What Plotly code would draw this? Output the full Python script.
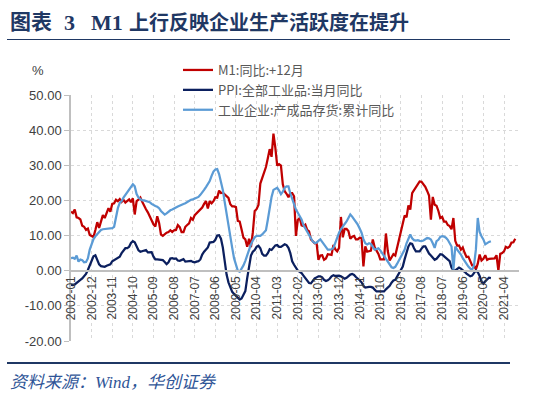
import plotly.graph_objects as go

# ---------------- data ----------------
months = [f"{y}-{m:02d}" for y in range(2002, 2022) for m in range(1, 13)]  # 2002-01 .. 2021-12
tick_labels = months[0:232:11]  # 2002-01, 2002-12, ... 2021-04

m1_yoy_lead12 = [
    16.8, 16.4, 17.4, 15.2, 15.0, 14.6, 12.8, 12.5, 11.6, 12.0, 10.2, 10.0,
    9.6, 11.6, 13.8, 12.2, 14.0, 15.8, 15.0, 16.5, 17.8, 16.8, 19.0, 19.2,
    20.2, 19.8, 20.4, 19.6, 20.2, 19.4, 20.0, 20.3, 19.5, 20.6, 16.0, 19.8,
    20.2, 20.8, 19.6, 18.4, 17.5, 16.6, 15.5, 14.6, 13.2, 12.6, 15.5, 13.6,
    10.3, 9.9, 10.5, 10.8, 11.0, 11.5, 11.0, 11.5, 11.6, 13.0, 12.4, 11.0,
    11.0, 12.5, 13.0, 13.5, 15.0, 14.5, 15.8, 16.4, 17.0, 17.4, 18.0, 19.0,
    19.8, 17.7, 19.8, 19.2, 19.8, 20.9, 20.8, 22.8, 22.1, 22.2, 21.7, 21.0,
    20.7, 18.9, 18.3, 18.3, 18.1, 14.2, 14.0, 11.7, 9.4, 8.9, 6.8, 9.1,
    6.7, 10.9, 17.0, 17.5, 18.7, 24.8, 26.4, 27.7, 29.5, 32.0, 34.6, 32.4,
    39.0, 35.0, 29.9, 30.3, 29.9, 24.6, 22.6, 21.9, 20.9, 22.1, 22.1, 21.2,
    9.9, 14.5, 15.0, 12.9, 12.7, 13.1, 11.6, 11.2, 8.9, 8.4, 7.8, 7.9,
    3.1, 4.3, 4.4, 3.1, 3.5, 4.7, 4.6, 4.5, 7.3, 6.1, 5.5, 6.5,
    15.3, 9.5, 11.9, 11.9, 11.3, 9.1, 9.7, 9.9, 8.9, 8.9, 9.4, 9.3,
    1.2, 6.9, 5.4, 5.5, 5.7, 8.9, 6.7, 5.7, 4.8, 3.2, 3.2, 3.2,
    10.6, 5.6, 2.9, 3.7, 4.7, 4.3, 6.6, 9.3, 11.4, 14.0, 15.7, 15.2,
    18.6, 17.4, 22.1, 22.9, 23.7, 24.6, 25.4, 25.3, 24.7, 23.9, 22.7, 21.4,
    14.5, 21.0, 18.8, 18.5, 17.0, 15.0, 15.3, 14.0, 14.0, 13.0, 12.7, 11.8,
    15.0, 8.5, 7.1, 7.2, 6.0, 6.6, 5.1, 3.9, 4.0, 2.7, 1.5, 1.5,
    0.4, 2.0, 4.6, 2.9, 3.4, 4.4, 3.1, 3.4, 3.4, 3.3, 3.5, 4.4,
    0.0, 4.8, 5.0, 5.5, 6.8, 6.5, 6.9, 8.0, 8.1, 9.1,
]

ppi_yoy = [
    -4.0, -4.1, -3.9, -3.4, -2.9, -2.6, -2.2, -1.6, -0.9, 0.2, 1.6, 3.2,
    4.1, 4.4, 3.0, 1.8, 1.3, 1.3, 1.1, 1.4, 1.6, 1.8, 2.7, 3.0,
    3.5, 3.6, 4.0, 5.0, 5.7, 6.4, 6.4, 6.8, 7.9, 8.4, 8.1, 7.1,
    5.8, 5.4, 5.6, 5.8, 5.9, 5.2, 5.2, 5.3, 4.0, 3.2, 3.2, 3.2,
    3.0, 3.0, 2.5, 1.9, 2.4, 3.5, 3.6, 3.4, 3.5, 2.9, 2.8, 3.1,
    3.3, 2.6, 2.7, 2.8, 2.8, 2.5, 2.4, 2.6, 2.7, 3.2, 4.6, 5.4,
    6.1, 6.6, 8.0, 8.1, 8.2, 8.8, 10.0, 10.1, 9.1, 6.6, 2.0, -1.1,
    -3.3, -4.5, -6.0, -6.6, -7.2, -7.8, -8.2, -7.9, -7.0, -5.8, -2.1, 1.7,
    4.3, 5.4, 5.9, 6.8, 7.1, 6.4, 4.8, 4.3, 4.3, 5.0, 6.1, 5.9,
    6.6, 7.2, 7.3, 6.8, 6.8, 7.1, 7.5, 7.3, 6.5, 5.0, 2.7, 1.7,
    0.7, 0.0, -0.3, -0.7, -1.4, -2.1, -2.9, -3.5, -3.6, -2.8, -2.2, -1.9,
    -1.6, -1.6, -1.9, -2.6, -2.9, -2.7, -2.3, -1.6, -1.3, -1.5, -1.4, -1.4,
    -1.6, -2.0, -2.3, -2.0, -1.4, -1.1, -0.9, -1.2, -1.8, -2.2, -2.7, -3.3,
    -4.3, -4.8, -4.6, -4.6, -4.6, -4.8, -5.4, -5.9, -5.9, -5.9, -5.9, -5.9,
    -5.3, -4.9, -4.3, -3.4, -2.8, -2.6, -1.7, -0.8, 0.1, 1.2, 3.3, 5.5,
    6.9, 7.8, 7.6, 6.4, 5.5, 5.5, 5.5, 6.3, 6.9, 6.9, 5.8, 4.9,
    4.3, 3.7, 3.1, 3.4, 4.1, 4.7, 4.6, 4.1, 3.6, 3.3, 2.7, 0.9,
    0.1, 0.1, 0.4, 0.9, 0.6, 0.0, -0.3, -0.8, -1.2, -1.6, -1.4, -0.5,
    0.1, -0.4, -1.5, -3.1, -3.7, -3.0, -2.4, -2.0, -2.1,
]

inventory_ytd_yoy = [
    3.6, 3.7, 3.4, 4.3, 2.6, 3.2, 3.0, 2.4, 2.5, 3.5, 6.0, 7.8,
    9.0, 9.8, 10.4, 11.2, 11.6, 11.8, 11.9, 12.0, 12.0, 12.2, 12.1, 12.5,
    15.5, 17.8, 19.3, 19.8, 20.8, 21.5, 22.2, 23.0, 23.7, 24.6, 24.0, 21.8,
    20.8, 20.4, 20.0, 20.0, 19.8, 19.7, 19.5, 19.0, 18.6, 18.4, 18.2, 17.8,
    17.0, 16.5, 16.0, 16.3, 16.8, 17.2, 17.4, 17.6, 18.0, 18.3, 18.6, 18.9,
    19.0, 19.2, 19.6, 19.9, 20.2, 20.3, 20.5, 20.6, 21.0, 21.6, 22.2, 23.0,
    23.8, 24.6, 25.5, 27.0, 28.2, 28.8, 28.9, 27.5, 25.5, 23.0, 19.5, 16.0,
    12.5, 9.0, 6.5, 3.5, 1.5, 0.0, -0.3, 0.5, 1.5, 2.8, 4.5, 6.0,
    7.5, 8.6, 9.5, 9.9, 9.8, 9.9, 10.3, 10.8, 11.5, 14.5, 18.0, 21.0,
    23.0, 23.4, 23.6, 22.8, 21.8, 22.5, 23.6, 24.0, 24.0, 22.0, 20.3, 19.0,
    17.4, 16.5, 15.5, 14.6, 13.0, 12.0, 11.0, 10.0, 9.0, 8.3, 7.9, 8.0,
    8.5, 8.9, 8.2, 7.4, 6.6, 6.0, 6.0, 6.1, 6.5, 8.0, 9.6, 10.8,
    11.8, 12.7, 13.3, 14.0, 15.0, 16.0, 15.4, 14.6, 14.0, 13.1, 12.0, 10.8,
    9.0, 7.8, 7.5, 7.8, 7.6, 6.8, 6.0, 6.2, 6.4, 5.8, 5.0, 4.2,
    3.2, 2.3, 1.7, 1.0, 0.8, 1.1, 2.0, 3.1, 4.0, 5.0, 6.0, 7.8,
    9.0, 10.3, 9.2, 8.7, 8.6, 8.7, 8.5, 8.4, 8.6, 8.9, 9.3, 9.2,
    8.9, 7.8, 6.5, 8.4, 8.8, 9.6, 9.8, 9.7, 9.4, 8.8, 7.8, 6.9,
    0.3, 6.9, 6.0, 5.4, 4.6, 3.6, 2.7, 2.0, 1.2, 0.6, 0.3, 1.5,
    6.0, 15.0, 11.0, 9.8, 8.9, 7.5, 7.9, 8.2, 8.4,
]

y_ticks = [-20, -10, 0, 10, 20, 30, 40, 50]
y_ticktext = ["-20.00", "-10.00", "0.00", "10.00", "20.00", "30.00", "40.00", "50.00"]

series_names = ["M1:同比:+12月", "PPI:全部工业品:当月同比", "工业企业:产成品存货:累计同比"]

# ---------------- layout helpers ----------------
W, H = 550, 397
ML, MR, MT, MB = 71, 31, 95, 56
PW, PH = W - ML - MR, H - MT - MB


def px_x(p):
    return (p - ML) / PW


def px_y(p):
    return (H - MB - p) / PH


fig = go.Figure()
fig.add_trace(go.Scatter(x=months[:len(m1_yoy_lead12)], y=m1_yoy_lead12, mode="lines",
                         name=series_names[0], line=dict(color="#C00000", width=2.25)))
fig.add_trace(go.Scatter(x=months[:len(ppi_yoy)], y=ppi_yoy, mode="lines",
                         name=series_names[1], line=dict(color="#0B1F5E", width=2.25)))
fig.add_trace(go.Scatter(x=months[:len(inventory_ytd_yoy)], y=inventory_ytd_yoy, mode="lines",
                         name=series_names[2], line=dict(color="#5B9BD5", width=2.25)))

cjk = "Noto Sans CJK SC"
serif = "Liberation Serif, Noto Sans CJK SC"
title_color = "#1F3864"

annotations = [
    dict(text="<b>图表</b>", x=px_x(8), y=px_y(22), xanchor="left", yanchor="middle",
         font=dict(family=serif, size=21, color=title_color)),
    dict(text="<b>3</b>", x=px_x(62), y=px_y(22), xanchor="left", yanchor="middle",
         font=dict(family=serif, size=22, color=title_color)),
    dict(text="<b>M1</b>", x=px_x(89), y=px_y(22), xanchor="left", yanchor="middle",
         font=dict(family=serif, size=22, color=title_color)),
    dict(text="<b>上行反映企业生产活跃度在提升</b>", x=px_x(127), y=px_y(22), xanchor="left", yanchor="middle",
         font=dict(family=serif, size=20, color=title_color)),
    dict(text="<i>资料来源：Wind，华创证券</i>", x=px_x(8), y=px_y(382), xanchor="left", yanchor="middle",
         font=dict(family=serif, size=17, color="#2F5597")),
    dict(text="%", x=px_x(38), y=px_y(70), xanchor="center", yanchor="middle",
         font=dict(family="Liberation Sans, Arial", size=13, color="#404040")),
]
for a in annotations:
    a.update(xref="paper", yref="paper", showarrow=False)

shapes = [
    dict(type="line", xref="paper", yref="paper", x0=px_x(7), x1=px_x(510), y0=px_y(39.5), y1=px_y(39.5),
         line=dict(color=title_color, width=1)),
    dict(type="line", xref="paper", yref="paper", x0=px_x(7), x1=px_x(510), y0=px_y(363), y1=px_y(363),
         line=dict(color=title_color, width=2)),
]

fig.update_layout(
    width=W, height=H,
    margin=dict(l=ML, r=MR, t=MT, b=MB, pad=0, autoexpand=False),
    paper_bgcolor="white", plot_bgcolor="white",
    showlegend=True,
    legend=dict(x=px_x(178), y=px_y(55), xanchor="left", yanchor="top",
                bgcolor="rgba(0,0,0,0)", font=dict(family=cjk, size=13, color="#595959"),
                tracegroupgap=0, itemwidth=30),
    annotations=annotations,
    shapes=shapes,
    xaxis=dict(type="category", categoryorder="array", categoryarray=months,
               range=[0, 239], tickmode="array", tickvals=tick_labels, ticktext=tick_labels,
               tickangle=-90, tickfont=dict(family="Liberation Sans, Arial", size=12, color="#404040"),
               showgrid=True, gridcolor="#D9D9D9", griddash="dot", gridwidth=1,
               showline=True, linecolor="#BFBFBF", linewidth=1.5, ticks="",
               anchor="free", position=20 / 70, zeroline=False),
    yaxis=dict(range=[-20, 50], tickmode="array", tickvals=y_ticks, ticktext=y_ticktext,
               tickfont=dict(family="Liberation Sans, Arial", size=13, color="#404040"),
               showgrid=True, gridcolor="#D9D9D9", griddash="dot", gridwidth=1,
               showline=True, linecolor="#BFBFBF", linewidth=1.5,
               ticks="outside", ticklen=5, tickcolor="#BFBFBF", zeroline=False),
)

fig.write_html("out.html", config={"displayModeBar": False},
               post_script="document.body.style.margin='0';")
